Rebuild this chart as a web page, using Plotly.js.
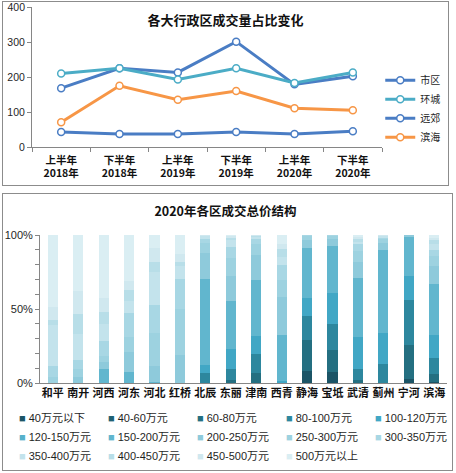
<!DOCTYPE html>
<html><head><meta charset="utf-8">
<script src="https://cdn.plot.ly/plotly-3.0.1.min.js"></script>
<style>
html,body{margin:0;padding:0;background:#fff;width:456px;height:473px;overflow:hidden;position:relative;}
#top{position:absolute;left:3px;top:2px;width:445px;height:183px;}
#topframe{position:absolute;left:2px;top:1px;width:445px;height:183px;border:1px solid #8c8c8c;z-index:5;pointer-events:none;}
#toplabel{position:absolute;left:0px;top:1px;width:25px;height:12px;line-height:12px;text-align:right;z-index:6;
  font-family:"Liberation Sans",Arial,sans-serif;font-size:10.5px;color:#1f1f1f;}
#bot{position:absolute;left:-23px;top:194px;width:475px;height:276px;}
#botframe{position:absolute;left:2px;top:193px;width:449px;height:276px;border:1px solid #8c8c8c;z-index:5;pointer-events:none;}
#mask{position:absolute;left:0;top:186px;width:2px;height:287px;background:#fff;z-index:4;}
</style></head><body>
<div id="top"></div><div id="topframe"></div><div id="toplabel"></div><div id="bot"></div><div id="mask"></div><div id="botframe"></div>
<script>
// ---------- top chart data ----------
const periods = ['上半年<br>2018年','下半年<br>2018年','上半年<br>2019年','下半年<br>2019年','上半年<br>2020年','下半年<br>2020年'];
const lineNames = ['市区','环城','远郊','滨海'];
const shiqu  = [168, 225, 213, 301, 179, 202];
const huancheng = [210, 225, 193, 225, 183, 213];
const yuanjiao = [43, 37, 37, 43, 37, 45];
const binhai = [71, 175, 135, 160, 111, 105];
const lineColors = ['#4A7DC4','#4BACC6','#4A7DC4','#F79646'];
const topTickVals = [0, 100, 200, 300, 400];

// ---------- bottom chart data ----------
const districts = ['和平','南开','河西','河东','河北','红桥','北辰','东丽','津南','西青','静海','宝坻','武清','蓟州','宁河','滨海'];
const bands = ['40万元以下','40-60万元','60-80万元','80-100万元','100-120万元','120-150万元','150-200万元','200-250万元','250-300万元','300-350万元','350-400万元','400-450万元','450-500万元','500万元以上'];
const b40below = [0,0,0,0,0,0,0,0,0,0,8.2,7.4,0,0,2.8,0.7];
const b40_60   = [0,0,0,0,0,0,0,0,0,0,0,0,0,0,0,0];
const b60_80   = [0,0,0,0,0,0,0,2.0,6.8,0,20.9,14.9,2.0,0,22.9,5.4];
const b80_100  = [0,0,0,0,0,0,7.0,7.4,12.8,0,16.2,17.6,7.4,12.9,30.4,10.8];
const b100_120 = [0,0,0,0,0,0,5.3,13.5,12.2,1.5,12.2,20.9,21.6,20.9,16.2,15.5];
const b120_150 = [0,0,0,0,0,0,0,0,0,0,0,0,0,0,0,0];
const b150_200 = [0,0,9.5,7.4,1.0,0,58.0,32.4,37.8,31.0,33.8,31.8,39.9,55.8,26.3,34.3];
const b200_250 = [0,4.1,4.5,13.5,10.6,18.9,17.8,16.9,16.9,25.6,5.4,4.7,10.8,4.7,1.4,12.2];
const b250_300 = [4.1,5.4,4.3,10.1,22.2,31.1,6.2,12.2,7.4,11.6,2.6,2.0,7.4,2.7,0,6.8];
const b300_350 = [7.4,6.1,10.1,16.2,18.9,20.3,3.2,7.4,3.4,10.1,0.7,0.7,4.7,1.3,0,4.1];
const b350_400 = [27.7,17.6,11.5,8.1,22.3,8.8,1.5,4.7,1.4,5.3,0,0,1.4,0.7,0,4.1];
const b400_450 = [3.4,13.5,8.1,7.4,6.8,2.7,0.5,1.4,0.5,5.4,0,0,2.0,0.4,0,2.7];
const b450_500 = [8.8,15.5,9.5,6.2,9.4,5.4,0.3,1.2,0.5,3.5,0,0,1.3,0.3,0,1.5];
const b500up   = [48.6,37.8,42.5,31.1,8.8,12.8,0.2,0.9,0.3,6.0,0,0,1.5,0.3,0,1.9];
const bandValues = [b40below,b40_60,b60_80,b80_100,b100_120,b120_150,b150_200,b200_250,b250_300,b300_350,b350_400,b400_450,b450_500,b500up];
const bandColors = ['#1B5466','#1F6072','#246F81','#2D879E','#41A7C5','#57B1CB','#61B6CE','#8ECADB','#9DD2E0','#A8D7E4','#C3E3EC','#B8DEE8','#D0E8EF','#DAEEF3'];
const yTickVals = [0,10,20,30,40,50,60,70,80,90,100];
const yTickText = ['0%','','','','','50%','','','','','100%'];

const FONT = 'Liberation Sans, Arial, "Noto Sans CJK SC", sans-serif';
const TXT = '#1f1f1f';

// ---------- top chart ----------
const lineSeries = [shiqu, huancheng, yuanjiao, binhai];
const topTraces = lineSeries.map((vals, i) => ({
  type: 'scatter', mode: 'lines+markers', name: lineNames[i],
  x: periods, y: vals,
  line: {color: lineColors[i], width: 3},
  marker: {symbol: 'circle', size: 7, color: '#ffffff', line: {color: lineColors[i], width: 1.5}}
}));
const topMax = topTickVals[topTickVals.length - 1];
// the topmost tick label sits at the very edge of the frame; it is written as plain text next to the axis end
document.getElementById('toplabel').textContent = String(topMax);
const topLayout = {
  width: 445, height: 183,
  margin: {l: 29, r: 66, t: 5, b: 38, autoexpand: false},
  paper_bgcolor: '#fff', plot_bgcolor: '#fff',
  font: {family: FONT, color: TXT, size: 10.5},
  title: {text: '各大行政区成交量占比变化', font: {family: '"Noto Sans CJK SC", sans-serif', size: 13, weight: 'bold', color: '#111'},
          xref: 'container', x: 0.5, xanchor: 'center', yref: 'container', y: 1 - 18/183, yanchor: 'middle'},
  showlegend: true,
  legend: {x: 0.995, xanchor: 'left', y: 0.58, yanchor: 'top', font: {size: 10, family: '"Noto Sans CJK SC", sans-serif', color: TXT},
           bgcolor: 'rgba(0,0,0,0)', borderwidth: 0, traceorder: 'normal'},
  xaxis: {type: 'category', range: [-0.5, 5.5], showline: true, linecolor: '#868686', linewidth: 1,
          ticks: 'outside', tickson: 'boundaries', ticklen: 4, tickcolor: '#868686', showgrid: false, zeroline: false,
          ticklabelstandoff: 3,
          tickfont: {family: '"Noto Sans CJK SC", sans-serif', size: 10.5, weight: 'bold', color: '#111'}},
  yaxis: {range: [0, topMax], tickvals: topTickVals, ticktext: topTickVals.map(v => v === topMax ? '' : String(v)),
          showline: true, linecolor: '#868686', linewidth: 1,
          ticks: 'outside', ticklen: 4, tickcolor: '#868686', showgrid: false, zeroline: false, automargin: false,
          tickfont: {size: 10.5, color: TXT}}
};
Plotly.newPlot('top', topTraces, topLayout, {displayModeBar: false, staticPlot: true});

// ---------- bottom chart ----------
const barTraces = bandValues.map((vals, i) => ({
  type: 'bar', name: bands[i], x: districts, y: vals, showlegend: false,
  marker: {color: bandColors[i], line: {width: 0}}
}));
// legend keys: 5 column legends; coloured square is part of label text, symbol transparent
const legendIds = ['legend','legend2','legend3','legend4','legend5'];
const keyTraces = bands.map((name, i) => ({
  type: 'scatter', mode: 'markers', legend: legendIds[i % 5],
  name: '<span style="color:' + bandColors[i] + '">■</span> ' + name,
  x: [districts[0]], y: [null], hoverinfo: 'skip',
  marker: {symbol: 'square', size: 1, color: 'rgba(0,0,0,0)'}
}));
const colLeft = [16, 105, 194, 283, 372];   // page x of the key squares
const botLayout = {
  width: 475, height: 276,
  margin: {l: 63, r: 5, t: 41, b: 87, autoexpand: false},
  paper_bgcolor: 'rgba(0,0,0,0)', plot_bgcolor: 'rgba(0,0,0,0)',
  barmode: 'stack', barnorm: 'percent', bargap: 0.6,
  font: {family: FONT, color: TXT, size: 11},
  title: {text: '2020年各区成交总价结构', font: {family: '"Noto Sans CJK SC", sans-serif', size: 12.5, weight: 'bold', color: '#111'},
          xref: 'container', x: 248.5/475, xanchor: 'center', yref: 'container', y: 1 - 18/276, yanchor: 'middle'},
  showlegend: true,
  xaxis: {type: 'category', range: [-0.5, districts.length - 0.5], showline: true, linecolor: '#868686', linewidth: 1, ticks: '',
          showgrid: false, zeroline: false,
          tickfont: {family: '"Noto Sans CJK SC", sans-serif', size: 11, weight: 'bold', color: '#111'}},
  yaxis: {range: [0, 100], tickvals: yTickVals, ticktext: yTickText, showline: true, linecolor: '#868686', linewidth: 1,
          ticks: 'outside', ticklen: 4, tickcolor: '#868686', showgrid: false, zeroline: false,
          tickfont: {size: 11, color: TXT}}
};
legendIds.forEach((id, k) => {
  botLayout[id] = {orientation: 'v', xref: 'container', x: (colLeft[k] - 14) / 475, xanchor: 'left',
                   yref: 'container', y: 0.241, yanchor: 'top', traceorder: 'normal', tracegroupgap: 0,
                   font: {size: 11, family: FONT, color: TXT}, bgcolor: 'rgba(0,0,0,0)', borderwidth: 0};
});
Plotly.newPlot('bot', barTraces.concat(keyTraces), botLayout, {displayModeBar: false, staticPlot: true});
</script>
</body></html>
